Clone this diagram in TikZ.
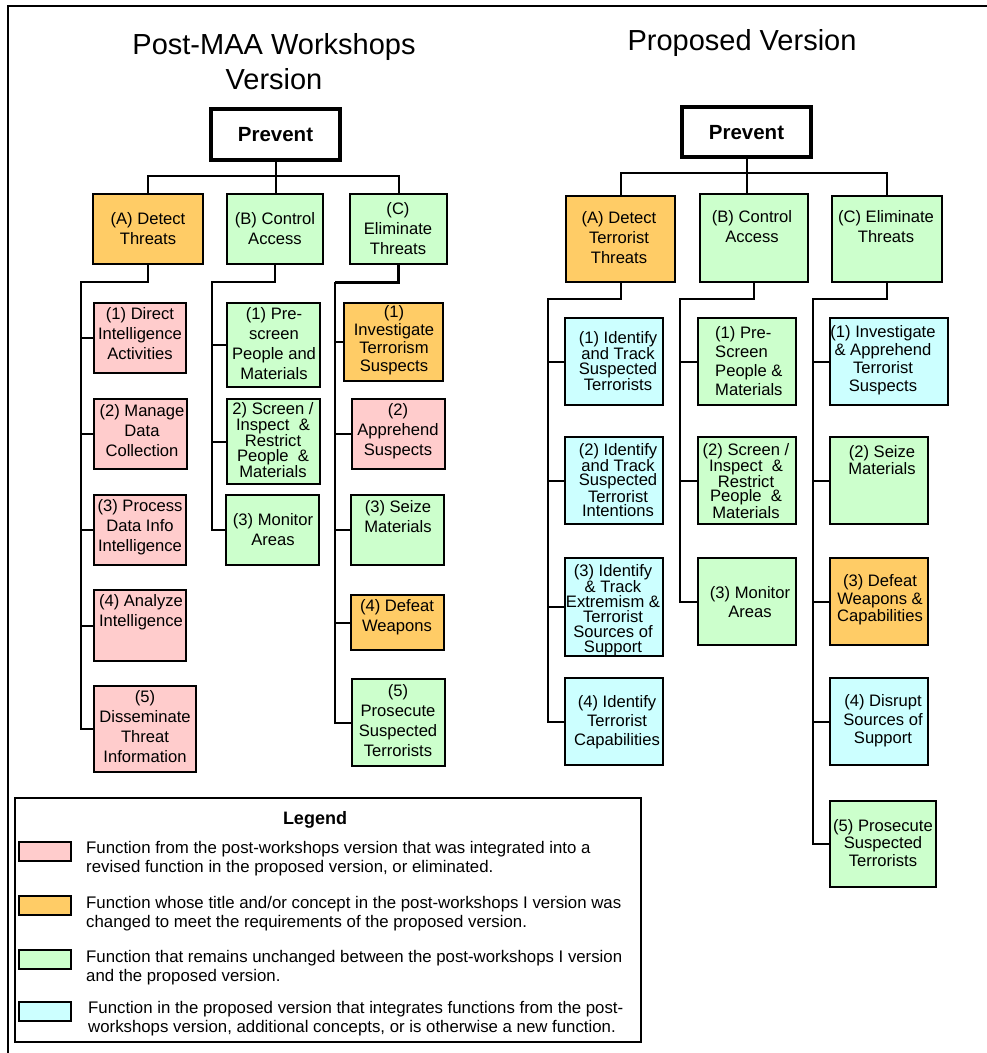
\documentclass[tikz,border=0pt]{standalone}
\usepackage{fontspec}
\setmainfont{Liberation Sans}
\definecolor{pk}{HTML}{FFCCCC}
\definecolor{org}{HTML}{FFCC66}
\definecolor{grn}{HTML}{CCFFCC}
\definecolor{cyn}{HTML}{CCFFFF}
\newcommand\bx[6]{\node[bx,fill=#2,minimum width={#5-#3-1.8},minimum height={#6-#4-1.8}] (#1) at ({(#3+#5)/2},{(#4+#6)/2}) {};}
\begin{document}
\begin{tikzpicture}[x=1pt,y=-1pt,
  bx/.style={draw=black,line width=1.8pt,rectangle,inner sep=0pt},
  pv/.style={draw=black,line width=4.5pt,rectangle,inner sep=0pt,fill=white},
  tx/.style={font=\fontsize{16.6}{#1}\selectfont,align=center,inner sep=0pt},
  tx/.default=20,
  ttl/.style={font=\fontsize{29}{35}\selectfont,align=center,inner sep=0pt},
  bold/.style={font=\fontsize{20.5}{24}\selectfont\bfseries,inner sep=0pt},
  lg/.style={font=\fontsize{16.8}{19}\selectfont,align=left,inner sep=0pt,anchor=west},
  ln/.style={line width=2pt},
  sw/.style={draw=black,line width=2pt,rectangle,inner sep=0pt,minimum width=52,minimum height=19}]
\useasboundingbox (0,0) rectangle (987,1053);
\fill[white] (0,0) rectangle (987,1053);
\draw[line width=2pt] (987,6) -- (8,6) -- (8,1053);

% ---------- titles ----------
\node[ttl] (t1) at (274,62) {Post-MAA Workshops\\Version};
\node[ttl] (t2) at (742,43) {Proposed Version};

% ---------- left tree ----------
\node[pv,minimum width=129,minimum height=51] (LP) at (275.5,134.5) {};
\node[bold] at (275.5,135) {Prevent};
\bx{LA}{org}{92}{193}{204}{265}
\bx{LB}{grn}{226}{193}{324}{265}
\bx{LC}{grn}{349}{193}{448}{265}
\bx{LA1}{pk}{93}{302}{187}{374}
\bx{LA2}{pk}{93}{398}{188}{470}
\bx{LA3}{pk}{93}{494}{187}{566}
\bx{LA4}{pk}{93}{589}{187}{662}
\bx{LA5}{pk}{93}{685}{197}{773}
\bx{LB1}{grn}{226}{302}{321}{388}
\bx{LB2}{grn}{226}{398}{321}{485}
\bx{LB3}{grn}{225}{494}{320}{566}
\bx{LC1}{org}{343}{302}{444}{382}
\bx{LC2}{pk}{351}{398}{446}{470}
\bx{LC3}{grn}{350}{494}{445}{566}
\bx{LC4}{org}{350}{594}{445}{651}
\bx{LC5}{grn}{351}{678}{446}{767}

\node[tx] at (148,229) {(A) Detect\\Threats};
\node[tx] at (275,229) {(B) Control\\Access};
\node[tx] at (398,229) {(C)\\Eliminate\\Threats};
\node[tx] at (140,334) {(1) Direct\\Intelligence\\Activities};
\node[tx] at (142,431) {(2) Manage\\Data\\Collection};
\node[tx] at (140,527) {(3) Process\\Data Info\\Intelligence};
\node[tx] at (141,612) {(4) Analyze\\Intelligence};
\node[tx] at (145,727) {(5)\\Disseminate\\Threat\\Information};
\node[tx] at (274,344) {(1) Pre-\\screen\\People and\\Materials};
\node[tx=14.5] at (273,440) {2) Screen /\\Inspect~~\&\\Restrict\\People~~\&\\Materials};
\node[tx] at (273,530) {(3) Monitor\\Areas};
\node[tx=18] at (394,340) {(1)\\Investigate\\Terrorism\\Suspects};
\node[tx] at (398,431) {(2)\\Apprehend\\Suspects};
\node[tx] at (398,517) {(3) Seize\\Materials};
\node[tx] at (397,617) {(4) Defeat\\Weapons};
\node[tx] at (398,721) {(5)\\Prosecute\\Suspected\\Terrorists};

\draw[ln] (LP.south) -- (LP.south |- LB.north);
\draw[ln] (LA.north) -- ++(0,-17) -| (LC.north);
\coordinate (LAt) at (81,282);
\coordinate (LBt) at (212,282);
\coordinate (LCt) at (335,282);
\draw[ln] (LA.south) |- (LAt) |- (LA5.west);
\foreach \n in {LA1,LA2,LA3,LA4} \draw[ln] (LAt |- \n.west) -- (\n.west);
\draw[ln] (LB.south) |- (LBt) |- (LB3.west);
\foreach \n in {LB1,LB2} \draw[ln] (LBt |- \n.west) -- (\n.west);
\draw[ln] (LCt) |- (LC5.west);
\draw[line width=3pt] (LC.south) |- (LCt);
\foreach \n in {LC1,LC2,LC3,LC4} \draw[ln] (LCt |- \n.west) -- (\n.west);

% ---------- right tree ----------
\node[pv,minimum width=129,minimum height=50] (RP) at (746.5,132) {};
\node[bold] at (746.5,133) {Prevent};
\bx{RA}{org}{565}{195}{676}{283}
\bx{RB}{grn}{699}{193}{809}{283}
\bx{RC}{grn}{831}{195}{943}{283}
\bx{RA1}{cyn}{564}{317}{664}{406}
\bx{RA2}{cyn}{564}{436}{664}{525}
\bx{RA3}{cyn}{564}{557}{664}{657}
\bx{RA4}{cyn}{564}{677}{664}{766}
\bx{RB1}{grn}{697}{317}{797}{406}
\bx{RB2}{grn}{697}{436}{797}{525}
\bx{RB3}{grn}{697}{557}{797}{646}
\bx{RC1}{cyn}{829}{317}{949}{406}
\bx{RC2}{grn}{829}{436}{929}{525}
\bx{RC3}{org}{829}{557}{929}{646}
\bx{RC4}{cyn}{829}{677}{929}{766}
\bx{RC5}{grn}{829}{800}{937}{888}

\node[tx] at (619,238) {(A) Detect\\Terrorist\\Threats};
\node[tx] at (752,227) {(B) Control\\Access};
\node[tx] at (886,227) {(C) Eliminate\\Threats};
\node[tx=14.2] at (618,361) {(1) Identify\\and Track\\Suspected\\Terrorists};
\node[tx=14.2] at (618,480) {(2) Identify\\and Track\\Suspected\\Terrorist\\Intentions};
\node[tx=15] at (613,610) {(3) Identify\\\& Track\\Extremism \&\\Terrorist\\Sources of\\Support};
\node[tx=19] at (617,722) {(4) Identify\\Terrorist\\Capabilities};
\node[tx=19,align=left,anchor=west] at (715,361) {(1) Pre-\\Screen\\People \&\\Materials};
\node[tx=14] at (746,481) {(2) Screen /\\Inspect~~\&\\Restrict\\People~~\&\\Materials};
\node[tx=19] at (750,602) {(3) Monitor\\Areas};
\node[tx=18] at (883,360) {(1) Investigate\\\& Apprehend\\Terrorist\\Suspects};
\node[tx=17.5] at (882,460) {(2) Seize\\Materials};
\node[tx=17.5] at (880,600) {(3) Defeat\\Weapons \&\\Capabilities};
\node[tx=18.5] at (883,721) {(4) Disrupt\\Sources of\\Support};
\node[tx=17.5] at (883,843) {(5) Prosecute\\Suspected\\Terrorists};

\draw[ln] (RP.south) -- (RP.south |- RB.north);
\draw[ln] (RA.north) -- ++(0,-22) -| (RC.north);
\coordinate (RAt) at (548,299);
\coordinate (RBt) at (680,299);
\coordinate (RCt) at (813,299);
\draw[ln] (RA.south) |- (RAt) |- (RA4.west);
\foreach \n in {RA1,RA2,RA3} \draw[ln] (RAt |- \n.west) -- (\n.west);
\draw[ln] (RB.south) |- (RBt) |- (RB3.west);
\foreach \n in {RB1,RB2} \draw[ln] (RBt |- \n.west) -- (\n.west);
\draw[ln] (RC.south) |- (RCt) |- (RC5.west);
\foreach \n in {RC1,RC2,RC3,RC4} \draw[ln] (RCt |- \n.west) -- (\n.west);

% ---------- legend ----------
\node[draw=black,line width=2pt,rectangle,inner sep=0pt,minimum width=626,minimum height=244] (LG) at (328,920) {};
\node[font=\fontsize{18}{22}\selectfont\bfseries,inner sep=0pt] (LGt) at (315,820) {Legend};
\node[sw,fill=pk] (s1) at (45,851.5) {};
\node[sw,fill=org] (s2) at (45,905.5) {};
\node[sw,fill=grn] (s3) at (45,959) {};
\node[sw,fill=cyn] (s4) at (45,1011.5) {};
\node[lg] (l1) at (86,858.5) {Function from the post-workshops version that was integrated into a\\revised function in the proposed version, or eliminated.};
\node[lg] (l2) at (86,914) {Function whose title and/or concept in the post-workshops I version was\\changed to meet the requirements of the proposed version.};
\node[lg] (l3) at (86,967.5) {Function that remains unchanged between the post-workshops I version\\and the proposed version.};
\node[lg] (l4) at (88,1019) {Function in the proposed version that integrates functions from the post-\\workshops version, additional concepts, or is otherwise a new function.};
\end{tikzpicture}
\end{document}
